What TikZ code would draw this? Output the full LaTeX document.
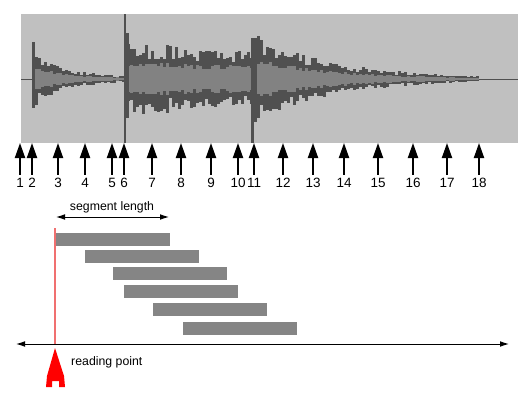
\documentclass[tikz,border=0pt]{standalone}
\usepackage{fontspec}
\setmainfont{Liberation Sans}
\usetikzlibrary{arrows.meta}
\definecolor{panel}{HTML}{C0C0C0}
\definecolor{wavedark}{HTML}{505050}
\definecolor{wavemid}{HTML}{828282}
\definecolor{segbar}{HTML}{858585}
\definecolor{readline}{HTML}{F07070}
\tikzset{
  marker/.style={line width=1.7pt,-{Triangle[length=0.45cm,width=0.3cm]},shorten <=0.1cm},
  num/.style={inner sep=0pt,font=\fontsize{11.5}{13}\selectfont},
  txt/.style={inner sep=0pt,font=\fontsize{10.5}{12}\selectfont},
  segbox/.style={fill=segbar,inner sep=0pt,anchor=north west,minimum width=3.42cm,minimum height=0.39cm},
  span/.style={line width=0.8pt,{Latex[length=0.27cm,width=0.17cm]}-{Latex[length=0.27cm,width=0.17cm]}}
}
\begin{document}
\begin{tikzpicture}[x=0.03cm,y=-0.03cm]
  \useasboundingbox (0,0) rectangle (532,396);
  \fill[panel] (21,14) rectangle (518,143);
  \draw[wavedark,line width=0.8pt] (21,79) -- (518,79);
  \pgfmathsetseed{11}
  \foreach \x in {35,38,...,122} {
    \pgfmathsetmacro\base{19*exp(-(\x-35)/32)+1.5}
    \pgfmathsetmacro\up{\base*(0.7+0.6*rnd)}
    \pgfmathsetmacro\lo{\base*(0.7+0.6*rnd)}
    \pgfmathsetmacro\mid{\base*(0.4+0.2*rnd)}
    \fill[wavedark] (\x,79-\up) rectangle (\x+3,79+\lo);
    \fill[wavemid] (\x,79-\mid) rectangle (\x+3,79+\mid);
  }
  \foreach \x in {127,130,...,250} {
    \pgfmathsetmacro\base{29-7*(\x-127)/124}
    \pgfmathsetmacro\up{\base*(0.72+0.55*rnd)}
    \pgfmathsetmacro\lo{\base*(0.72+0.55*rnd)}
    \pgfmathsetmacro\mid{\base*(0.4+0.2*rnd)}
    \fill[wavedark] (\x,79-\up) rectangle (\x+3,79+\lo);
    \fill[wavemid] (\x,79-\mid) rectangle (\x+3,79+\mid);
  }
  \foreach \x in {254,257,...,478} {
    \pgfmathsetmacro\base{36*exp(-(\x-254)/80)}
    \pgfmathsetmacro\up{\base*(0.72+0.55*rnd)}
    \pgfmathsetmacro\lo{\base*(0.72+0.55*rnd)}
    \pgfmathsetmacro\mid{\base*(0.4+0.2*rnd)}
    \fill[wavedark] (\x,79-\up) rectangle (\x+3,79+\lo);
    \fill[wavemid] (\x,79-\mid) rectangle (\x+3,79+\mid);
  }
  \fill[wavedark] (32,42) rectangle (35,108);
  \fill[wavedark] (123.5,14) rectangle (126,143);
  \fill[wavedark] (126,33) rectangle (129,118);
  \fill[wavedark] (251,38) rectangle (253.5,143);
  \fill[wavedark] (253.5,38) rectangle (257,122);
  \foreach \n/\x in {1/20,2/32,3/58,4/85,5/112,6/124,7/152,8/181,9/211,10/238,
                     11/254,12/283,13/313,14/344,15/378,16/413,17/447,18/479} {
    \node[num] (l\n) at (\x,183) {\n};
    \coordinate (t\n) at (\x,143);
    \draw[marker] (l\n.north) -- (t\n);
  }
  \node[txt] (seglen) at (112,207) {segment length};
  \coordinate (sa) at (56,217);
  \coordinate (sb) at (169,217);
  \draw[span] (sa) -- (sb);
  \node[segbox] (s1) at (56,233) {};
  \node[segbox] (s2) at (85,250) {};
  \node[segbox] (s3) at (113,267) {};
  \node[segbox] (s4) at (124,285) {};
  \node[segbox] (s5) at (153,303) {};
  \node[segbox] (s6) at (183,322) {};
  \coordinate (rtop) at (55,228);
  \coordinate (rbot) at (55,344);
  \draw[readline,line width=1pt] (rtop) -- (rbot);
  \coordinate (tl) at (16,344);
  \coordinate (tr) at (509,344);
  \draw[span] (tl) -- (tr);
  \fill[red] (55,348) -- (47,376) -- (46,387) -- (52,387) -- (52,381) -- (59,381)
    -- (59,387) -- (65,387) -- (64,376) -- cycle;
  \node[txt,anchor=west] (rplabel) at (71,362) {reading point};
\end{tikzpicture}
\end{document}
